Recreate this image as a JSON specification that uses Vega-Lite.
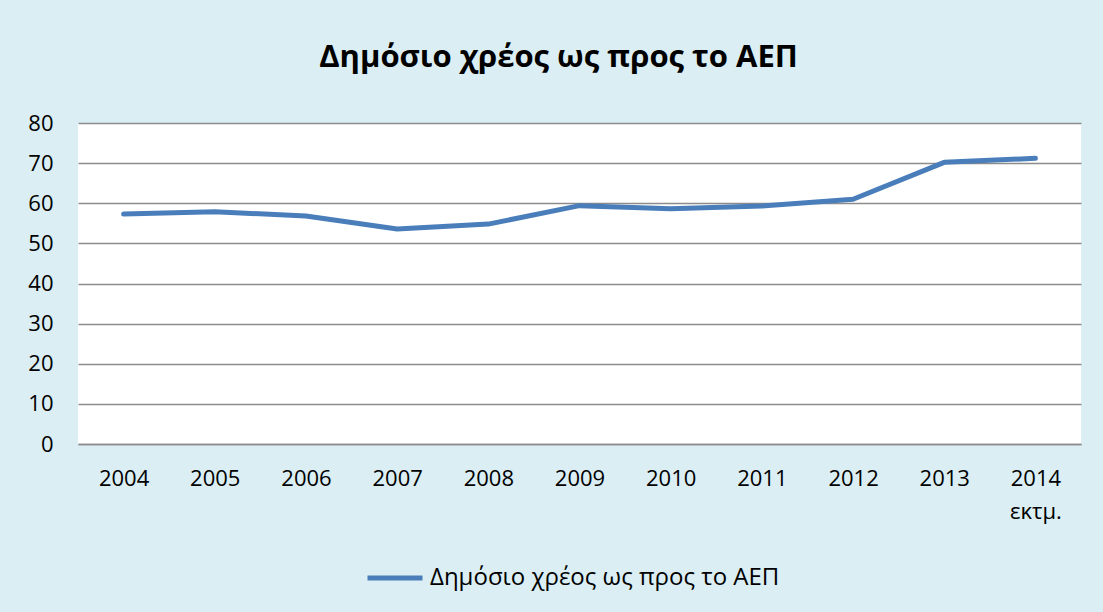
{
  "$schema": "https://vega.github.io/schema/vega-lite/v6.json",
  "width": 1003,
  "height": 321,
  "autosize": {"type": "none"},
  "padding": {"left": 78, "top": 123, "right": 22, "bottom": 168},
  "background": "#DAEEF3",
  "title": {
    "text": "Δημόσιο χρέος ως προς το ΑΕΠ",
    "font": "Open Sans",
    "fontSize": 31,
    "fontWeight": "bold",
    "color": "#000000",
    "anchor": "middle",
    "frame": "group",
    "baseline": "alphabetic",
    "offset": 14,
    "dx": -21
  },
  "data": {
    "values": [
      {"year": "2004", "value": 57.3, "series": "Δημόσιο χρέος ως προς το ΑΕΠ"},
      {"year": "2005", "value": 57.9, "series": "Δημόσιο χρέος ως προς το ΑΕΠ"},
      {"year": "2006", "value": 56.8, "series": "Δημόσιο χρέος ως προς το ΑΕΠ"},
      {"year": "2007", "value": 53.6, "series": "Δημόσιο χρέος ως προς το ΑΕΠ"},
      {"year": "2008", "value": 54.8, "series": "Δημόσιο χρέος ως προς το ΑΕΠ"},
      {"year": "2009", "value": 59.4, "series": "Δημόσιο χρέος ως προς το ΑΕΠ"},
      {"year": "2010", "value": 58.6, "series": "Δημόσιο χρέος ως προς το ΑΕΠ"},
      {"year": "2011", "value": 59.3, "series": "Δημόσιο χρέος ως προς το ΑΕΠ"},
      {"year": "2012", "value": 61.0, "series": "Δημόσιο χρέος ως προς το ΑΕΠ"},
      {"year": "2013", "value": 70.2, "series": "Δημόσιο χρέος ως προς το ΑΕΠ"},
      {"year": "2014", "value": 71.2, "series": "Δημόσιο χρέος ως προς το ΑΕΠ"}
    ]
  },
  "mark": {"type": "line", "strokeWidth": 5, "strokeCap": "round", "strokeJoin": "round"},
  "encoding": {
    "x": {
      "field": "year",
      "type": "ordinal",
      "scale": {"type": "point", "padding": 0.5},
      "axis": {
        "title": null,
        "labelAngle": 0,
        "ticks": false,
        "domain": true,
        "domainColor": "#8C8C8C",
        "domainWidth": 1.5,
        "labelPadding": 24,
        "labelLineHeight": 33,
        "labelExpr": "datum.value == '2014' ? ['2014', 'εκτμ.'] : datum.label"
      }
    },
    "y": {
      "field": "value",
      "type": "quantitative",
      "scale": {"domain": [0, 80], "nice": false},
      "axis": {
        "title": null,
        "values": [0, 10, 20, 30, 40, 50, 60, 70, 80],
        "ticks": false,
        "domain": false,
        "grid": true,
        "gridColor": "#8C8C8C",
        "gridWidth": 1.5,
        "labelPadding": 25
      }
    },
    "color": {
      "field": "series",
      "type": "nominal",
      "scale": {"range": ["#4A7EBB"]},
      "legend": {
        "title": null,
        "orient": "none",
        "legendX": 287,
        "legendY": 425,
        "symbolType": "stroke",
        "symbolSize": 3025,
        "symbolStrokeWidth": 5,
        "labelOffset": 5,
        "labelFontSize": 24,
        "labelFont": "Open Sans",
        "labelColor": "#000000",
        "labelLimit": 0
      }
    }
  },
  "config": {
    "view": {"stroke": null, "fill": "#FFFFFF"},
    "axis": {"labelFont": "Open Sans", "labelFontSize": 22, "labelColor": "#000000"}
  }
}
